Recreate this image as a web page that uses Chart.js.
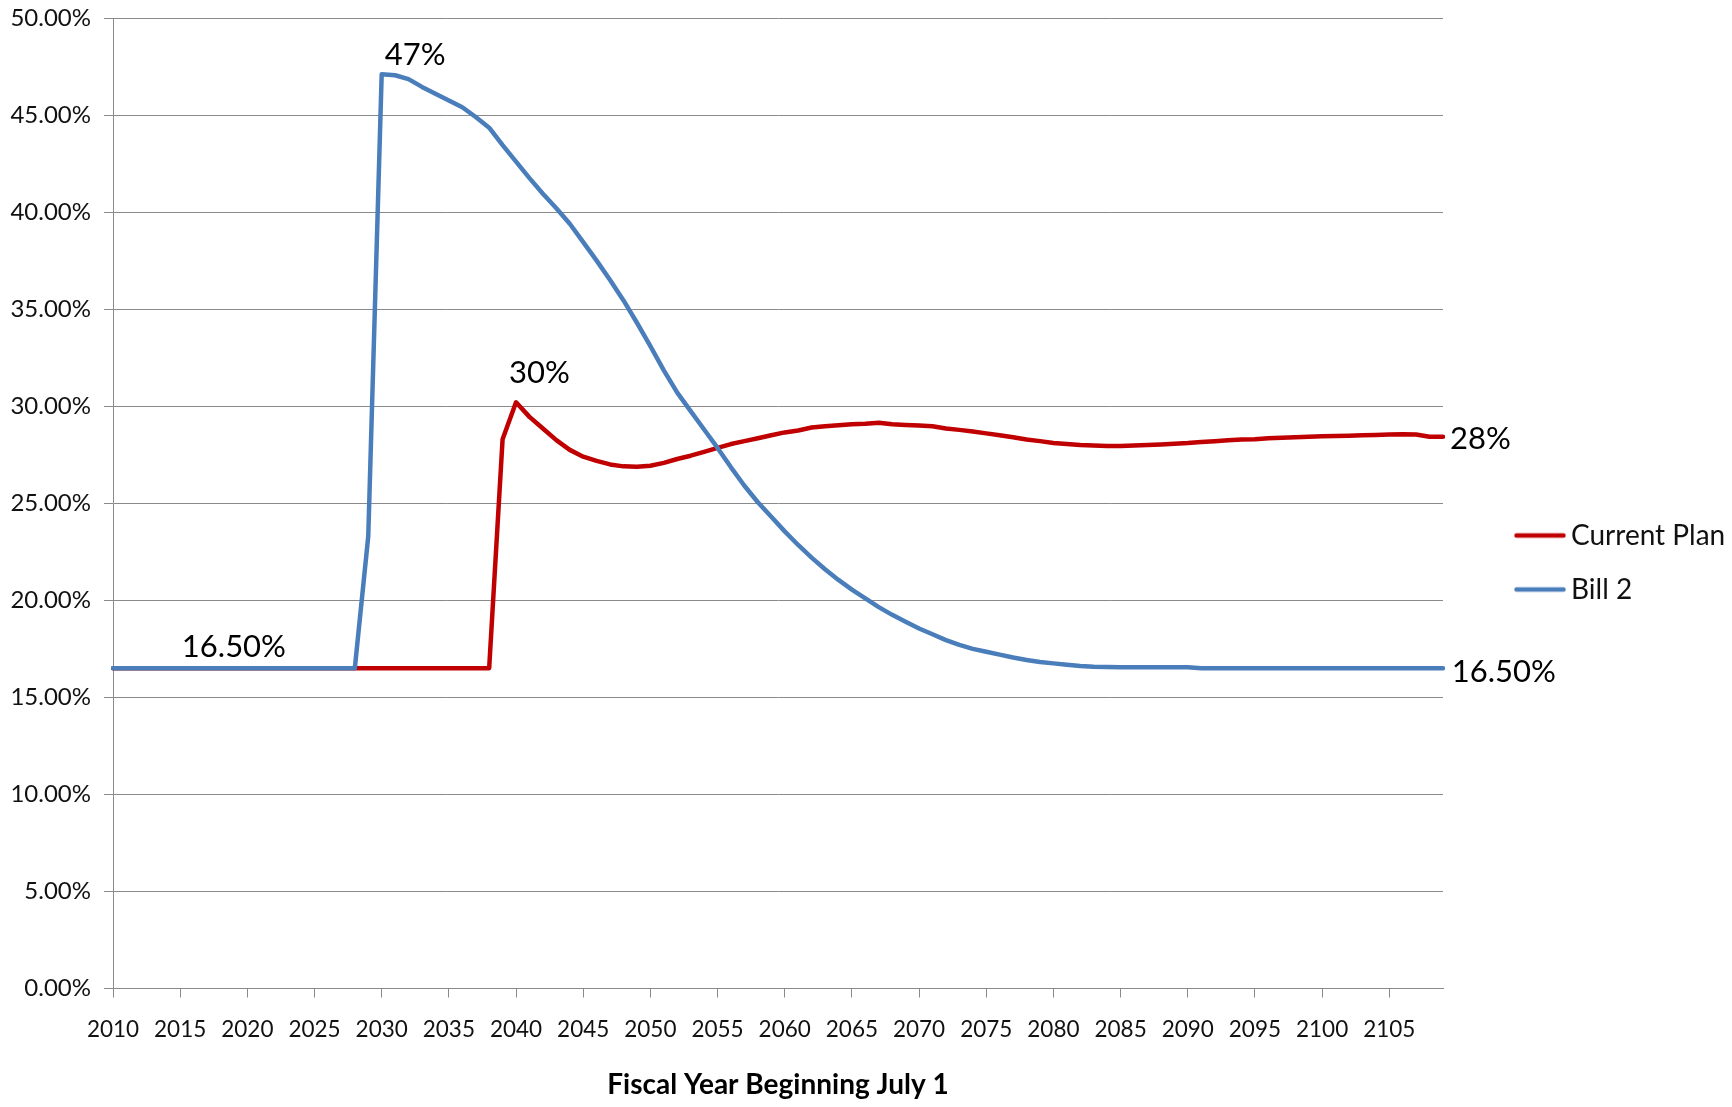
<!DOCTYPE html>
<html><head><meta charset="utf-8">
<script src="https://cdn.jsdelivr.net/npm/chart.js@4.4.1/dist/chart.umd.min.js"></script>
<style>html,body{margin:0;padding:0;background:#fff;} canvas{display:block;}</style>
</head><body>
<canvas id="c" width="1732" height="1107"></canvas>
<script>
// ---- data ----
const years = [
  2010,2011,2012,2013,2014,2015,2016,2017,2018,2019,
  2020,2021,2022,2023,2024,2025,2026,2027,2028,2029,
  2030,2031,2032,2033,2034,2035,2036,2037,2038,2039,
  2040,2041,2042,2043,2044,2045,2046,2047,2048,2049,
  2050,2051,2052,2053,2054,2055,2056,2057,2058,2059,
  2060,2061,2062,2063,2064,2065,2066,2067,2068,2069,
  2070,2071,2072,2073,2074,2075,2076,2077,2078,2079,
  2080,2081,2082,2083,2084,2085,2086,2087,2088,2089,
  2090,2091,2092,2093,2094,2095,2096,2097,2098,2099,
  2100,2101,2102,2103,2104,2105,2106,2107,2108,2109
];
const currentPlan = [
  16.5,16.5,16.5,16.5,16.5,16.5,16.5,16.5,16.5,16.5,
  16.5,16.5,16.5,16.5,16.5,16.5,16.5,16.5,16.5,16.5,
  16.5,16.5,16.5,16.5,16.5,16.5,16.5,16.5,16.5,28.3,
  30.2,29.45,28.85,28.25,27.75,27.4,27.18,27.0,26.9,26.88,
  26.93,27.08,27.28,27.45,27.65,27.85,28.05,28.2,28.35,28.5,
  28.65,28.75,28.9,28.97,29.02,29.07,29.1,29.15,29.07,29.03,
  29.0,28.97,28.85,28.78,28.7,28.6,28.5,28.4,28.28,28.2,
  28.1,28.05,28.0,27.97,27.95,27.95,27.98,28.0,28.03,28.07,
  28.1,28.15,28.2,28.24,28.28,28.3,28.35,28.38,28.4,28.43,
  28.45,28.47,28.48,28.5,28.52,28.54,28.56,28.54,28.43,28.43
];
const bill2 = [
  16.5,16.5,16.5,16.5,16.5,16.5,16.5,16.5,16.5,16.5,
  16.5,16.5,16.5,16.5,16.5,16.5,16.5,16.5,16.5,23.3,
  47.1,47.05,46.85,46.45,46.1,45.75,45.4,44.9,44.35,43.45,
  42.6,41.75,40.95,40.2,39.4,38.45,37.5,36.5,35.45,34.3,
  33.1,31.85,30.7,29.75,28.8,27.85,26.85,25.9,25.05,24.3,
  23.55,22.85,22.2,21.6,21.05,20.55,20.1,19.65,19.25,18.9,
  18.55,18.25,17.95,17.7,17.5,17.35,17.2,17.05,16.92,16.82,
  16.75,16.68,16.62,16.58,16.56,16.55,16.55,16.55,16.55,16.55,
  16.55,16.5,16.5,16.5,16.5,16.5,16.5,16.5,16.5,16.5,
  16.5,16.5,16.5,16.5,16.5,16.5,16.5,16.5,16.5,16.5
];
const seriesNames = ['Current Plan', 'Bill 2'];
const xTitle = 'Fiscal Year Beginning July 1';
// callout labels: year, series (0 = Current Plan, 1 = Bill 2), text
const noteYears  = [2030, 2040, 2109, 2109, 2019];
const noteSeries = [1, 0, 0, 1, 1];
const noteTexts  = ['47%', '30%', '28%', '16.50%', '16.50%'];

// ---- styles ----
const FONT = "Lato, 'Open Sans', sans-serif";
const RED = '#C00000';
const BLUE = '#4A7EBB';
const GRID = '#8a8a8a';
const TEXT = '#111111';

function lineMarker(color) {
  const c = document.createElement('canvas');
  c.width = 52; c.height = 8;
  const g = c.getContext('2d');
  g.strokeStyle = color; g.lineWidth = 4.5; g.lineCap = 'round';
  g.beginPath(); g.moveTo(2.5, 4); g.lineTo(49.5, 4); g.stroke();
  return c;
}
const markers = [lineMarker(RED), lineMarker(BLUE)];

const notesPlugin = {
  id: 'notes',
  afterDatasetsDraw(chart) {
    const {ctx, scales} = chart;
    const xs = scales.x, ys = scales.y;
    const place = [
      {align: 'left', dx: 3, dy: -9},
      {align: 'left', dx: -7, dy: -19},
      {align: 'left', dx: 7, dy: 12.6},
      {align: 'left', dx: 8.7, dy: 13.5},
      {align: 'center', dx: 0, dy: -11}
    ];
    ctx.save();
    ctx.font = '31px ' + FONT;
    ctx.fillStyle = '#000';
    ctx.textBaseline = 'alphabetic';
    noteTexts.forEach((t, i) => {
      const idx = years.indexOf(noteYears[i]);
      const val = (noteSeries[i] === 1 ? bill2 : currentPlan)[idx];
      const px = xs.getPixelForValue(idx);
      const py = ys.getPixelForValue(val);
      ctx.textAlign = place[i].align;
      ctx.fillText(t, px + place[i].dx, py + place[i].dy);
    });
    ctx.restore();
  }
};

Chart.defaults.font.family = FONT;

new Chart(document.getElementById('c'), {
  type: 'line',
  data: {
    labels: years.map(String),
    datasets: [
      {label: seriesNames[0], data: currentPlan, borderColor: RED, backgroundColor: RED,
       borderWidth: 4.5, pointRadius: 0, pointHoverRadius: 0, tension: 0, fill: false,
       borderJoinStyle: 'round', borderCapStyle: 'round', order: 2},
      {label: seriesNames[1], data: bill2, borderColor: BLUE, backgroundColor: BLUE,
       borderWidth: 4.5, pointRadius: 0, pointHoverRadius: 0, tension: 0, fill: false,
       borderJoinStyle: 'round', borderCapStyle: 'round', order: 1}
    ]
  },
  options: {
    responsive: false,
    animation: false,
    events: [],
    layout: {padding: {top: 18, right: 0, bottom: 0, left: 0}},
    plugins: {
      tooltip: {enabled: false},
      legend: {
        position: 'right',
        align: 'center',
        maxWidth: 235,
        labels: {
          usePointStyle: true,
          pointStyleWidth: 34,
          padding: 26,
          color: TEXT,
          font: {size: 28, family: FONT},
          generateLabels: () => seriesNames.map((n, i) => ({
            text: n, pointStyle: markers[i], datasetIndex: i, hidden: false,
            fontColor: TEXT, lineWidth: 0, strokeStyle: 'rgba(0,0,0,0)', fillStyle: 'rgba(0,0,0,0)'
          }))
        }
      }
    },
    scales: {
      x: {
        type: 'category',
        offset: false,
        grid: {display: true, drawOnChartArea: false, drawTicks: true, tickLength: 9, color: GRID, lineWidth: 1},
        border: {display: true, color: GRID, width: 1},
        ticks: {autoSkip: false, maxRotation: 0, minRotation: 0, padding: 19, color: TEXT, font: {size: 22.5}},
        afterBuildTicks: s => { s.ticks = s.ticks.filter(t => years[t.value] % 5 === 0); },
        title: {display: true, text: xTitle, color: '#000', font: {size: 28, weight: 'bold'}, padding: {top: 0, bottom: 5}},
        afterFit: s => { s.height = 118.5; s.paddingLeft = 0; s.paddingRight = 0; }
      },
      y: {
        min: 0, max: 50,
        grid: {color: GRID, lineWidth: 1, drawTicks: true, tickLength: 9},
        border: {display: true, color: GRID, width: 1},
        ticks: {stepSize: 5, padding: 13, color: TEXT, font: {size: 24}, callback: v => v.toFixed(2) + '%'},
        afterFit: s => { s.width = 113; s.paddingTop = 0; s.paddingBottom = 0; }
      },
      yr: {
        type: 'linear', position: 'right', display: true,
        grid: {display: false, drawTicks: false}, border: {display: false},
        ticks: {display: false},
        afterFit: s => {
          const lw = (s.chart.legend && s.chart.legend.width) || 235;
          s.width = Math.max(0, 289 - lw);
          s.paddingTop = 0; s.paddingBottom = 0;
        }
      }
    }
  },
  plugins: [notesPlugin]
});
</script>
</body></html>
